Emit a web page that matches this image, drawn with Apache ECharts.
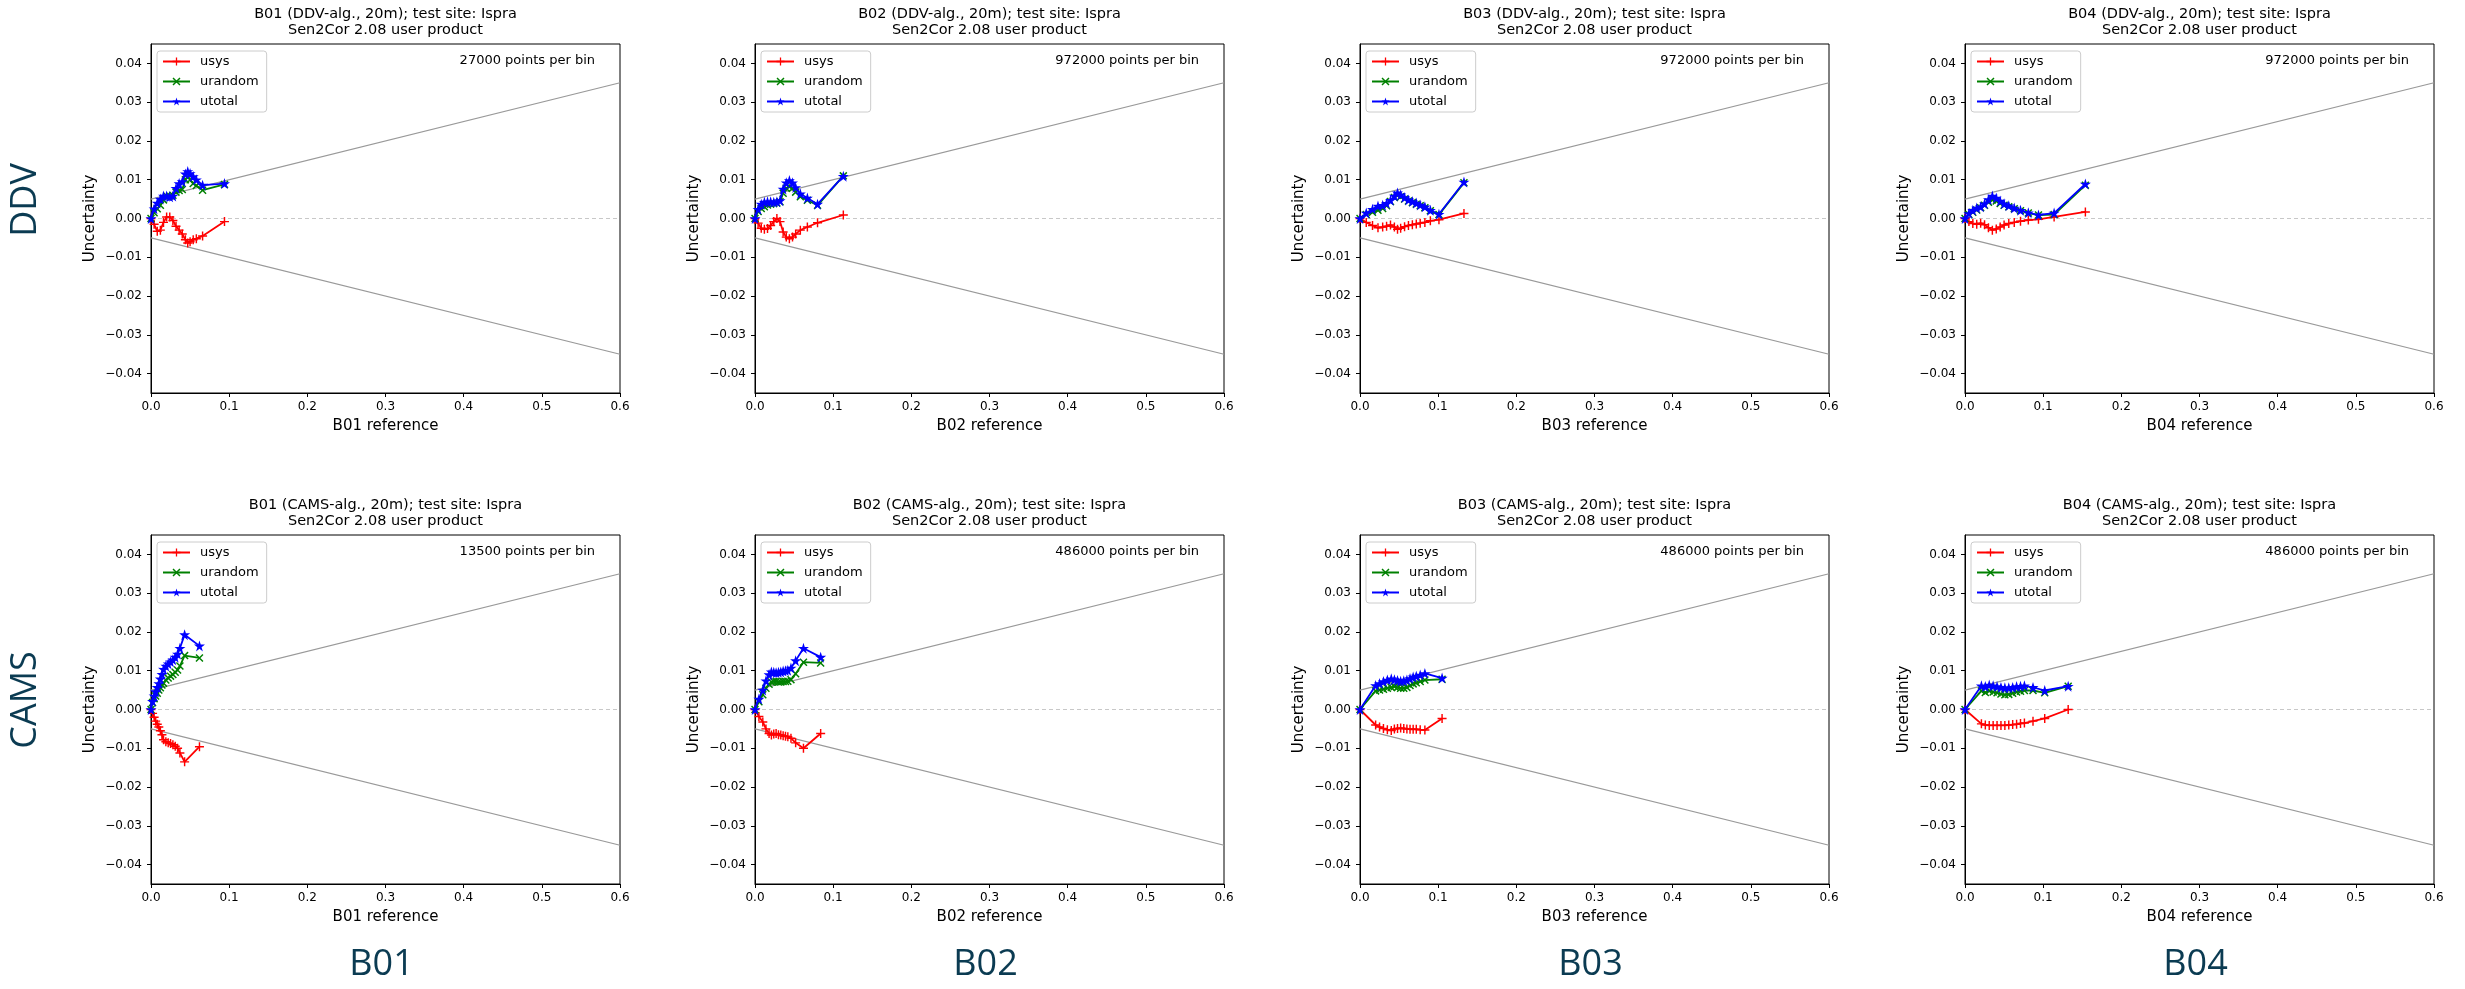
<!DOCTYPE html>
<html>
<head>
<meta charset="utf-8">
<script src="https://cdn.jsdelivr.net/npm/echarts@6/dist/echarts.min.js"></script>
<style>
html,body{margin:0;padding:0;background:#fff;}
#chart{width:2465px;height:989px;}
</style>
</head>
<body>
<div id="chart"></div>
<script>
// ---------------- DATA ----------------
const bands = ['B01', 'B02', 'B03', 'B04'];
const algorithms = ['DDV', 'CAMS'];
const binCounts = [
  ['27000', '972000', '972000', '972000'],
  ['13500', '486000', '486000', '486000']
];
const seriesNames = ['usys', 'urandom', 'utotal'];
const xTicks = [0, 0.1, 0.2, 0.3, 0.4, 0.5, 0.6];
const yTicks = [-0.04, -0.03, -0.02, -0.01, 0, 0.01, 0.02, 0.03, 0.04];
const guideUpper = [[0, 0.005], [0.6, 0.035]];
const guideLower = [[0, -0.005], [0.6, -0.035]];
const zeroLine = [[0, 0], [0.6, 0]];

// B01 DDV
const b01_ddv_x       = [0, 0.004, 0.008, 0.012, 0.016, 0.020, 0.024, 0.028, 0.032, 0.036, 0.040, 0.044, 0.047, 0.050, 0.054, 0.058, 0.066, 0.094];
const b01_ddv_usys    = [0, -0.0015, -0.0033, -0.0030, -0.0010, 0.0004, 0.0004, -0.0005, -0.0020, -0.0030, -0.0040, -0.0055, -0.0063, -0.0060, -0.0055, -0.0052, -0.0045, -0.0008];
const b01_ddv_urandom = [0, 0.0015, 0.0025, 0.0034, 0.0048, 0.0058, 0.0058, 0.0060, 0.0068, 0.0072, 0.0075, 0.0100, 0.0108, 0.0100, 0.0090, 0.0085, 0.0073, 0.0088];
const b01_ddv_utotal  = [0, 0.0025, 0.0040, 0.0050, 0.0058, 0.0058, 0.0056, 0.0058, 0.0078, 0.0090, 0.0095, 0.0115, 0.0121, 0.0116, 0.0108, 0.0100, 0.0086, 0.0090];
// B02 DDV
const b02_ddv_x       = [0, 0.004, 0.008, 0.012, 0.016, 0.020, 0.024, 0.028, 0.032, 0.036, 0.040, 0.044, 0.048, 0.052, 0.058, 0.067, 0.080, 0.113];
const b02_ddv_usys    = [0, -0.0012, -0.0025, -0.0028, -0.0026, -0.0018, -0.0008, 0.0000, -0.0008, -0.0035, -0.0048, -0.0052, -0.0048, -0.0040, -0.0030, -0.0022, -0.0011, 0.0009];
const b02_ddv_urandom = [0, 0.0018, 0.0026, 0.0030, 0.0035, 0.0037, 0.0039, 0.0040, 0.0043, 0.0065, 0.0078, 0.0082, 0.0078, 0.0068, 0.0056, 0.0047, 0.0034, 0.0110];
const b02_ddv_utotal  = [0, 0.0024, 0.0037, 0.0042, 0.0043, 0.0043, 0.0042, 0.0043, 0.0046, 0.0076, 0.0092, 0.0098, 0.0092, 0.0080, 0.0064, 0.0053, 0.0037, 0.0109];
// B03 DDV
const b03_ddv_x       = [0, 0.008, 0.016, 0.023, 0.029, 0.034, 0.039, 0.044, 0.048, 0.052, 0.057, 0.062, 0.067, 0.072, 0.077, 0.083, 0.090, 0.101, 0.133];
const b03_ddv_usys    = [0, -0.0010, -0.0018, -0.0024, -0.0022, -0.0020, -0.0017, -0.0022, -0.0028, -0.0025, -0.0021, -0.0018, -0.0016, -0.0014, -0.0012, -0.0010, -0.0006, -0.0003, 0.0013];
const b03_ddv_urandom = [0, 0.0010, 0.0016, 0.0021, 0.0026, 0.0033, 0.0044, 0.0054, 0.0060, 0.0056, 0.0050, 0.0045, 0.0041, 0.0037, 0.0033, 0.0028, 0.0020, 0.0010, 0.0092];
const b03_ddv_utotal  = [0, 0.0014, 0.0024, 0.0032, 0.0034, 0.0039, 0.0047, 0.0058, 0.0066, 0.0061, 0.0054, 0.0048, 0.0044, 0.0040, 0.0035, 0.0030, 0.0021, 0.0011, 0.0094];
// B04 DDV
const b04_ddv_x       = [0, 0.005, 0.010, 0.015, 0.020, 0.025, 0.030, 0.035, 0.040, 0.045, 0.050, 0.056, 0.063, 0.071, 0.081, 0.094, 0.114, 0.154];
const b04_ddv_usys    = [0, -0.0008, -0.0013, -0.0015, -0.0012, -0.0016, -0.0024, -0.0030, -0.0027, -0.0022, -0.0017, -0.0013, -0.0010, -0.0007, -0.0004, -0.0002, 0.0004, 0.0017];
const b04_ddv_urandom = [0, 0.0010, 0.0016, 0.0022, 0.0028, 0.0034, 0.0042, 0.0048, 0.0045, 0.0039, 0.0034, 0.0030, 0.0025, 0.0020, 0.0014, 0.0009, 0.0010, 0.0086];
const b04_ddv_utotal  = [0, 0.0013, 0.0021, 0.0027, 0.0030, 0.0038, 0.0049, 0.0058, 0.0053, 0.0045, 0.0038, 0.0033, 0.0027, 0.0021, 0.0015, 0.0009, 0.0014, 0.0089];
// B01 CAMS
const b01_cams_x       = [0, 0.002, 0.004, 0.006, 0.008, 0.010, 0.012, 0.014, 0.016, 0.019, 0.022, 0.025, 0.028, 0.031, 0.034, 0.037, 0.043, 0.062];
const b01_cams_usys    = [0, -0.0010, -0.0020, -0.0030, -0.0038, -0.0045, -0.0055, -0.0065, -0.0078, -0.0083, -0.0086, -0.0088, -0.0091, -0.0095, -0.0100, -0.0112, -0.0135, -0.0096];
const b01_cams_urandom = [0, 0.0018, 0.0028, 0.0035, 0.0042, 0.0050, 0.0056, 0.0063, 0.0068, 0.0076, 0.0081, 0.0086, 0.0090, 0.0096, 0.0102, 0.0112, 0.0139, 0.0133];
const b01_cams_utotal  = [0, 0.0021, 0.0035, 0.0046, 0.0057, 0.0067, 0.0079, 0.0091, 0.0104, 0.0112, 0.0118, 0.0123, 0.0128, 0.0135, 0.0143, 0.0158, 0.0193, 0.0164];
// B02 CAMS
const b02_cams_x       = [0, 0.005, 0.010, 0.014, 0.018, 0.021, 0.024, 0.027, 0.030, 0.033, 0.036, 0.039, 0.042, 0.046, 0.052, 0.062, 0.084];
const b02_cams_usys    = [0, -0.0018, -0.0032, -0.0050, -0.0062, -0.0066, -0.0063, -0.0062, -0.0065, -0.0066, -0.0068, -0.0069, -0.0070, -0.0074, -0.0086, -0.0100, -0.0062];
const b02_cams_urandom = [0, 0.0020, 0.0038, 0.0055, 0.0065, 0.0071, 0.0072, 0.0072, 0.0071, 0.0071, 0.0072, 0.0072, 0.0073, 0.0077, 0.0092, 0.0122, 0.0120];
const b02_cams_utotal  = [0, 0.0027, 0.0050, 0.0074, 0.0090, 0.0097, 0.0096, 0.0095, 0.0096, 0.0097, 0.0099, 0.0100, 0.0101, 0.0107, 0.0126, 0.0158, 0.0135];
// B03 CAMS
const b03_cams_x       = [0, 0.020, 0.025, 0.030, 0.035, 0.040, 0.044, 0.048, 0.052, 0.056, 0.060, 0.064, 0.068, 0.072, 0.077, 0.083, 0.105];
const b03_cams_usys    = [0, -0.0040, -0.0045, -0.0049, -0.0052, -0.0054, -0.0050, -0.0049, -0.0048, -0.0049, -0.0050, -0.0051, -0.0051, -0.0051, -0.0052, -0.0053, -0.0023];
const b03_cams_urandom = [0, 0.0048, 0.0050, 0.0052, 0.0055, 0.0057, 0.0059, 0.0057, 0.0055, 0.0055, 0.0057, 0.0062, 0.0066, 0.0069, 0.0072, 0.0076, 0.0078];
const b03_cams_utotal  = [0, 0.0062, 0.0067, 0.0072, 0.0076, 0.0079, 0.0077, 0.0075, 0.0073, 0.0074, 0.0076, 0.0080, 0.0084, 0.0086, 0.0089, 0.0093, 0.0081];
// B04 CAMS
const b04_cams_x       = [0, 0.021, 0.026, 0.031, 0.036, 0.041, 0.046, 0.051, 0.056, 0.061, 0.066, 0.071, 0.076, 0.087, 0.102, 0.132];
const b04_cams_usys    = [0, -0.0037, -0.0040, -0.0041, -0.0041, -0.0041, -0.0041, -0.0041, -0.0040, -0.0039, -0.0038, -0.0036, -0.0035, -0.0030, -0.0023, 0.0000];
const b04_cams_urandom = [0, 0.0048, 0.0044, 0.0048, 0.0045, 0.0043, 0.0040, 0.0038, 0.0039, 0.0042, 0.0045, 0.0047, 0.0049, 0.0049, 0.0043, 0.0060];
const b04_cams_utotal  = [0, 0.0061, 0.0059, 0.0063, 0.0061, 0.0059, 0.0057, 0.0056, 0.0056, 0.0057, 0.0059, 0.0060, 0.0061, 0.0057, 0.0049, 0.0060];

const panelData = [
  [[b01_ddv_x, b01_ddv_usys, b01_ddv_urandom, b01_ddv_utotal],
   [b02_ddv_x, b02_ddv_usys, b02_ddv_urandom, b02_ddv_utotal],
   [b03_ddv_x, b03_ddv_usys, b03_ddv_urandom, b03_ddv_utotal],
   [b04_ddv_x, b04_ddv_usys, b04_ddv_urandom, b04_ddv_utotal]],
  [[b01_cams_x, b01_cams_usys, b01_cams_urandom, b01_cams_utotal],
   [b02_cams_x, b02_cams_usys, b02_cams_urandom, b02_cams_utotal],
   [b03_cams_x, b03_cams_usys, b03_cams_urandom, b03_cams_utotal],
   [b04_cams_x, b04_cams_usys, b04_cams_urandom, b04_cams_utotal]]
];

// ---------------- LAYOUT / STYLE ----------------
const FONT = '"DejaVu Sans", sans-serif';
const BIG_FONT = '"Open Sans", "DejaVu Sans", sans-serif';
const BIG_COLOR = '#0b3b52';
const GRID_LEFT = [151, 755, 1360, 1965];
const GRID_TOP = [44, 535];
const GRID_W = 469, GRID_H = 349;

const PLUS = 'path://M0,4.2H10V5.8H0Z M4.2,0H5.8V10H4.2Z';
const CROSS = 'path://M1.3,0L10,8.7L8.7,10L0,1.3Z M8.7,0L10,1.3L1.3,10L0,8.7Z';
const STAR = 'path://M5,0L6.12,3.46L9.76,3.45L6.81,5.59L7.94,9.05L5,6.9L2.06,9.05L3.19,5.59L0.24,3.45L3.88,3.46Z';
const seriesColors = ['#ff0000', '#008000', '#0000ff'];
const seriesSymbols = [PLUS, CROSS, STAR];
const seriesSymbolSizes = [9, 8, 11];

function fmtY(v) {
  if (Math.abs(v) < 1e-9) return '0.00';
  return (v < 0 ? '\u2212' : '') + Math.abs(v).toFixed(2);
}

const grids = [], xAxes = [], yAxes = [], series = [], legends = [], graphics = [];
let gi = 0;
for (let r = 0; r < 2; r++) {
  for (let c = 0; c < 4; c++) {
    const left = GRID_LEFT[c], top = GRID_TOP[r];
    grids.push({left: left, top: top, width: GRID_W, height: GRID_H, show: true,
      borderColor: '#000', borderWidth: 1, backgroundColor: 'transparent', containLabel: false});
    xAxes.push({
      type: 'value', gridIndex: gi, min: 0, max: 0.6, interval: 0.1,
      name: bands[c] + ' reference', nameLocation: 'middle', nameGap: 26,
      nameTextStyle: {fontFamily: FONT, fontSize: 15, color: '#000'},
      axisLine: {show: true, onZero: false, lineStyle: {color: '#000', width: 1}},
      axisTick: {show: true, inside: false, length: 4, lineStyle: {color: '#000'}},
      axisLabel: {margin: 8, fontFamily: FONT, fontSize: 12, color: '#000',
        formatter: v => v.toFixed(1), showMinLabel: true, showMaxLabel: true},
      splitLine: {show: false}
    });
    yAxes.push({
      type: 'value', gridIndex: gi, min: -0.045, max: 0.045,
      name: 'Uncertainty', nameLocation: 'middle', nameGap: 53,
      nameTextStyle: {fontFamily: FONT, fontSize: 15, color: '#000'},
      axisLine: {show: true, onZero: false, lineStyle: {color: '#000', width: 1}},
      axisTick: {show: true, inside: false, length: 4, lineStyle: {color: '#000'}, customValues: yTicks},
      axisLabel: {margin: 9, fontFamily: FONT, fontSize: 12, color: '#000',
        formatter: fmtY, customValues: yTicks},
      splitLine: {show: false}
    });
    // guide lines
    series.push({type: 'line', xAxisIndex: gi, yAxisIndex: gi, data: zeroLine, symbol: 'none',
      silent: true, z: 1, lineStyle: {color: '#c8c8c8', width: 1, type: [4, 3]}});
    series.push({type: 'line', xAxisIndex: gi, yAxisIndex: gi, data: guideUpper, symbol: 'none',
      silent: true, z: 1, lineStyle: {color: '#999999', width: 1.2}});
    series.push({type: 'line', xAxisIndex: gi, yAxisIndex: gi, data: guideLower, symbol: 'none',
      silent: true, z: 1, lineStyle: {color: '#999999', width: 1.2}});
    const pd = panelData[r][c];
    const xs = pd[0];
    for (let s = 0; s < 3; s++) {
      const ys = pd[s + 1];
      series.push({
        name: seriesNames[s], type: 'line', xAxisIndex: gi, yAxisIndex: gi,
        data: xs.map((x, i) => [x, ys[i]]),
        symbol: seriesSymbols[s], symbolSize: seriesSymbolSizes[s], showSymbol: true,
        z: 3 + s,
        lineStyle: {color: seriesColors[s], width: 1.8},
        itemStyle: {color: seriesColors[s]},
        emphasis: {disabled: true}
      });
    }
    legends.push({
      orient: 'vertical', left: left + 6, top: top + 7,
      data: seriesNames.slice(),
      itemWidth: 27, itemHeight: 10, itemGap: 7,
      padding: [4, 8, 4, 5],
      backgroundColor: 'rgba(255,255,255,0.8)', borderColor: '#cccccc', borderWidth: 1, borderRadius: 3,
      textStyle: {fontFamily: FONT, fontSize: 13, color: '#000', padding: [0, 0, 0, 5]},
      selectedMode: false
    });
    const cx = left + GRID_W / 2;
    graphics.push({type: 'text', x: cx, y: top - 22, silent: true,
      style: {text: bands[c] + ' (' + algorithms[r] + '-alg., 20m); test site: Ispra\nSen2Cor 2.08 user product',
        font: '14.5px ' + FONT, fill: '#000', textAlign: 'center', textVerticalAlign: 'middle', lineHeight: 16}});
    graphics.push({type: 'text', x: left + GRID_W - 25, y: top + 17, silent: true,
      style: {text: binCounts[r][c] + ' points per bin', font: '13px ' + FONT, fill: '#000',
        textAlign: 'right', textVerticalAlign: 'middle'}});
    gi++;
  }
}
// big row/column labels
graphics.push({type: 'text', x: 26, y: 200, rotation: Math.PI / 2, silent: true,
  style: {text: algorithms[0], font: '36px ' + BIG_FONT, fill: BIG_COLOR, textAlign: 'center', textVerticalAlign: 'middle'}});
graphics.push({type: 'text', x: 26, y: 700, rotation: Math.PI / 2, silent: true,
  style: {text: algorithms[1], font: '36px ' + BIG_FONT, fill: BIG_COLOR, textAlign: 'center', textVerticalAlign: 'middle'}});
for (let c = 0; c < 4; c++) {
  graphics.push({type: 'text', x: GRID_LEFT[c] + GRID_W / 2 - 4, y: 965, silent: true,
    style: {text: bands[c], font: '36px ' + BIG_FONT, fill: BIG_COLOR, textAlign: 'center', textVerticalAlign: 'middle'}});
}

const chart = echarts.init(document.getElementById('chart'), null, {renderer: 'canvas'});
chart.setOption({
  animation: false,
  backgroundColor: '#ffffff',
  grid: grids,
  xAxis: xAxes,
  yAxis: yAxes,
  legend: legends,
  series: series,
  graphic: graphics
});
</script>
</body>
</html>
